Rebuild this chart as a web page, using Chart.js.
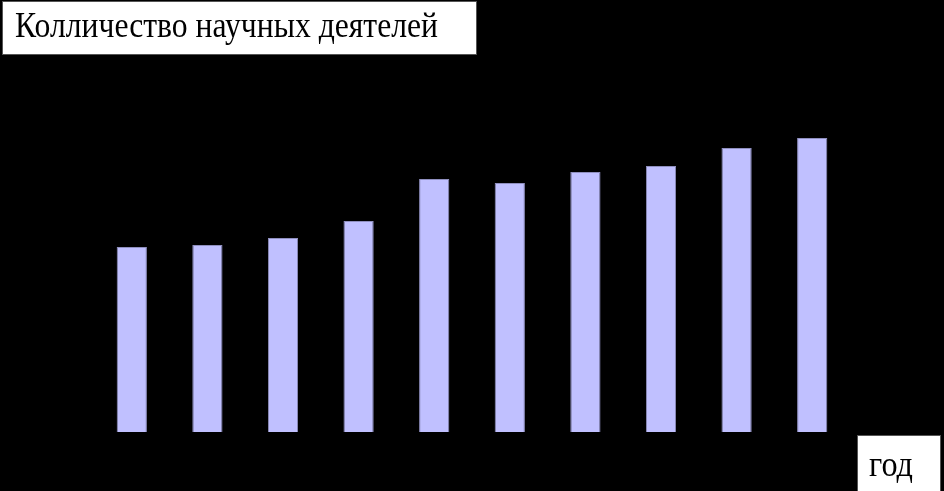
<!DOCTYPE html>
<html>
<head>
<meta charset="utf-8">
<script src="https://cdn.jsdelivr.net/npm/chart.js@4"></script>
<style>
html,body{margin:0;padding:0;background:#000;}
#wrap{width:944px;height:491px;position:relative;}
</style>
</head>
<body>
<div id="wrap"><canvas id="c" width="944" height="491"></canvas></div>
<script>
const chartTitle = "Колличество научных деятелей";
const axisTitle = "год";
const categories = ["1","2","3","4","5","6","7","8","9","10"];
const scientists = [185, 187, 194, 211, 253, 249, 260, 266, 284, 294];

const boxes = {
  id: 'boxes',
  beforeDraw(chart) {
    const ctx = chart.ctx;
    ctx.save();
    ctx.fillStyle = '#000';
    ctx.fillRect(0, 0, chart.width, chart.height);
    ctx.restore();
  },
  afterDraw(chart) {
    const ctx = chart.ctx;
    ctx.save();
    // title box
    ctx.fillStyle = '#fff';
    ctx.fillRect(2, 1, 475, 54);
    ctx.strokeStyle = '#555';
    ctx.lineWidth = 1;
    ctx.strokeRect(2.5, 1.5, 474, 53);
    ctx.fillStyle = '#000';
    ctx.font = '35px "Liberation Serif", "Times New Roman", serif';
    ctx.textBaseline = 'alphabetic';
    ctx.textAlign = 'left';
    ctx.fillText(chartTitle, 15, 37, 423);
    // axis title box
    ctx.fillStyle = '#fff';
    ctx.fillRect(857, 435, 84, 60);
    ctx.strokeStyle = '#555';
    ctx.strokeRect(857.5, 435.5, 83, 60);
    ctx.fillStyle = '#000';
    ctx.font = '35px "Liberation Serif", "Times New Roman", serif';
    ctx.fillText(axisTitle, 869, 476, 44);
    ctx.restore();
  }
};

new Chart(document.getElementById('c'), {
  type: 'bar',
  data: {
    labels: categories,
    datasets: [{
      data: scientists,
      backgroundColor: '#c0c0ff',
      borderColor: '#8f8fbf',
      borderWidth: 1,
      barPercentage: 0.8,
      categoryPercentage: 0.5
    }]
  },
  options: {
    responsive: false,
    animation: false,
    devicePixelRatio: 1,
    layout: { padding: { left: 94, right: 94, top: 132, bottom: 59 } },
    plugins: { legend: { display: false }, tooltip: { enabled: false }, title: { display: false } },
    scales: {
      x: { display: false },
      y: { display: false, min: 0, max: 300 }
    }
  },
  plugins: [boxes]
});
</script>
</body>
</html>
